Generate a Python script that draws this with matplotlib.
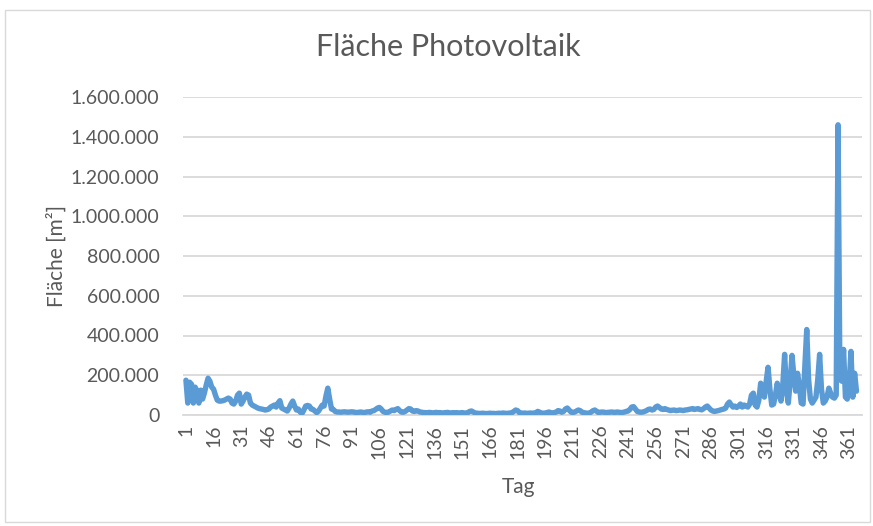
import matplotlib
matplotlib.use("Agg")
import matplotlib.pyplot as plt
from matplotlib.ticker import FuncFormatter, FixedLocator
from matplotlib.patches import Rectangle

plt.rcParams['font.family'] = ['Lato', 'DejaVu Sans']

title = "Fläche Photovoltaik"
x_label = "Tag"
y_label = "Fläche [m²]"

# daily area values in thousand m², day 1 .. 365
area_k = [
    175, 60, 165, 155, 60, 140, 120, 60, 125, 80,
    110, 150, 185, 170, 140, 130, 100, 75, 70, 70,
    72, 75, 80, 85, 80, 60, 55, 70, 100, 110,
    55, 70, 90, 105, 100, 60, 50, 45, 40, 35,
    32, 30, 28, 25, 27, 30, 40, 45, 50, 40,
    60, 72, 35, 30, 25, 20, 35, 55, 70, 45,
    25, 30, 15, 8, 25, 45, 48, 45, 30, 28,
    20, 12, 20, 35, 50, 45, 95, 135, 80, 30,
    28, 18, 15, 15, 14, 15, 16, 15, 14, 15,
    16, 15, 13, 12, 14, 15, 13, 12, 15, 16,
    14, 20, 22, 28, 35, 38, 30, 18, 14, 12,
    15, 20, 25, 22, 28, 32, 22, 15, 14, 18,
    25, 32, 30, 20, 18, 22, 20, 15, 14, 12,
    12, 11, 13, 12, 10, 12, 13, 11, 12, 10,
    11, 12, 13, 11, 10, 12, 11, 12, 10, 11,
    12, 10, 10, 12, 18, 20, 15, 10, 9, 8,
    8, 9, 8, 7, 8, 9, 8, 8, 7, 8,
    9, 8, 10, 9, 8, 9, 10, 12, 18, 25,
    22, 12, 10, 9, 10, 8, 9, 10, 9, 10,
    12, 18, 14, 10, 9, 10, 12, 15, 12, 10,
    12, 15, 22, 20, 14, 18, 30, 35, 25, 15,
    12, 15, 20, 25, 22, 14, 12, 10, 9, 10,
    15, 22, 25, 18, 12, 14, 15, 14, 12, 13,
    14, 15, 14, 13, 15, 14, 12, 13, 15, 18,
    20, 28, 40, 42, 30, 18, 15, 14, 15, 18,
    22, 28, 30, 25, 28, 40, 45, 38, 30, 28,
    32, 28, 25, 22, 24, 25, 22, 23, 25, 24,
    22, 25, 26, 28, 30, 32, 28, 30, 32, 28,
    26, 32, 40, 45, 35, 25, 20, 18, 20, 22,
    25, 28, 30, 35, 55, 65, 50, 40, 45, 38,
    45, 55, 40, 50, 45, 40, 55, 100, 110, 50,
    40, 75, 160, 120, 90, 170, 240, 130, 50, 55,
    100, 160, 110, 70, 150, 305, 120, 60, 170, 300,
    200, 120, 210, 150, 60, 55, 250, 430, 180, 80,
    60, 75, 90, 180, 305, 130, 60, 70, 90, 135,
    110, 90, 85, 100, 1460, 180, 170, 330, 90, 80,
    150, 320, 90, 210, 120,
]
assert len(area_k) == 365
days = list(range(1, len(area_k) + 1))
area = [v * 1000 for v in area_k]

x_tick_days = list(range(1, 366, 15))
y_ticks = [0, 200000, 400000, 600000, 800000, 1000000, 1200000, 1400000, 1600000]

W, H = 873, 526
fig = plt.figure(figsize=(W / 100, H / 100), dpi=100)
fig.patch.set_facecolor("white")
fig.add_artist(Rectangle((5 / W, 4 / H), (W - 8) / W, (H - 14) / H,
                         transform=fig.transFigure, fill=False,
                         edgecolor="#D9D9D9", linewidth=1.0))

ax = fig.add_axes([183 / W, 1 - 415 / H, (862 - 183) / W, (415 - 97) / H])
ax.plot(days, area, color="#5B9BD5", linewidth=3.9, solid_joinstyle="round",
        solid_capstyle="round", zorder=3)

ax.set_xlim(-0.6, 368)
ax.set_ylim(0, 1600000)
ax.yaxis.set_major_locator(FixedLocator(y_ticks))
ax.yaxis.set_major_formatter(FuncFormatter(lambda v, p: f"{int(v):,}".replace(",", ".")))
ax.set_xticks(x_tick_days)
ax.set_xticklabels([str(d) for d in x_tick_days], rotation=90)

ax.grid(axis="y", color="#D9D9D9", linewidth=1.3)
ax.set_axisbelow(True)
for s in ["top", "right", "left"]:
    ax.spines[s].set_visible(False)
ax.spines["bottom"].set_color("#D9D9D9")
ax.spines["bottom"].set_linewidth(1.3)
ax.tick_params(axis="both", length=0, colors="#595959", labelsize=14)
ax.tick_params(axis="y", pad=17)
ax.tick_params(axis="x", pad=7)

fig.text(448 / W, 1 - 47 / H, title, ha="center", va="center",
         fontsize=22, color="#595959")
fig.text(519 / W, 1 - 487 / H, x_label, ha="center", va="center",
         fontsize=15, color="#595959")
fig.text(57 / W, 1 - 256 / H, y_label, ha="center", va="center",
         rotation=90, fontsize=15, color="#595959")

fig.savefig("out.png", dpi=100)
